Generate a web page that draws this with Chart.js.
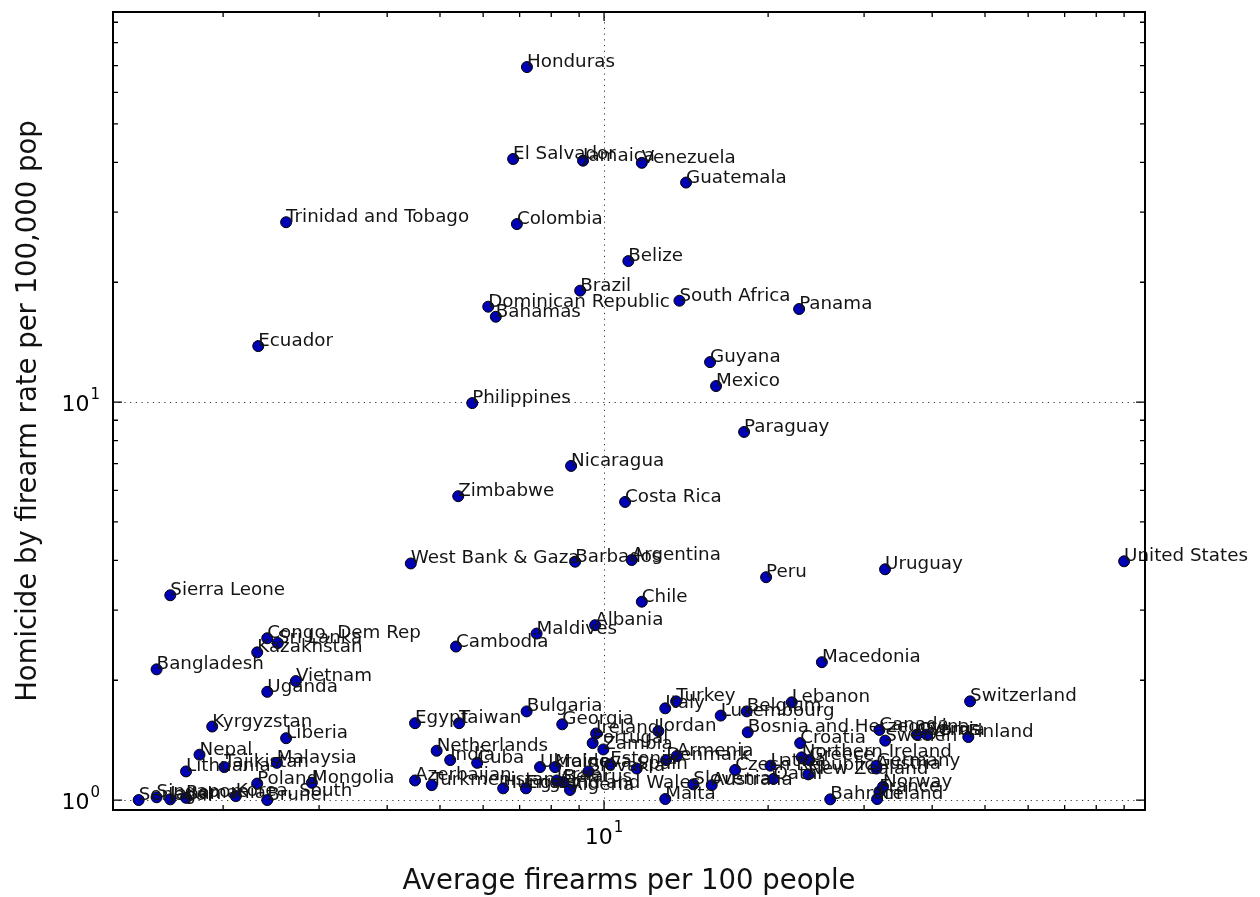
<!DOCTYPE html>
<html>
<head>
<meta charset="utf-8">
<script src="https://cdn.jsdelivr.net/npm/chart.js@4.4.0/dist/chart.umd.min.js"></script>
<style>
  html, body { margin: 0; padding: 0; background: #fff; }
  canvas { display: block; }
</style>
</head>
<body>
<canvas id="chart" width="1260" height="897"></canvas>
<script>
// countries, firearms per 100 people (x) and homicide-by-firearm rate (y)
const countries = [
  'Albania','Algeria','Argentina','Armenia','Australia','Austria','Azerbaijan','Bahamas','Bahrain','Bangladesh',
  'Barbados','Belarus','Belgium','Belize','Bosnia and Herzegovina','Brazil','Brunei','Bulgaria','Cambodia','Canada',
  'Chile','Colombia','Congo, Dem Rep','Costa Rica','Croatia','Cuba','Cyprus','Czech Republic','Denmark','Dominican Republic',
  'Ecuador','Egypt','El Salvador','England and Wales','Estonia','Finland','France','Georgia','Germany','Greece',
  'Guatemala','Guyana','Honduras','Hungary','Iceland','India','Ireland','Israel','Italy','Jamaica',
  'Japan','Jordan','Kazakhstan','Korea, South','Kyrgyzstan','Latvia','Lebanon','Liberia','Lithuania','Luxembourg',
  'Macedonia','Malaysia','Maldives','Malta','Mexico','Moldova','Mongolia','Nepal','Netherlands','New Zealand',
  'Nicaragua','Northern Ireland','Norway','Panama','Paraguay','Peru','Philippines','Poland','Portugal','Qatar',
  'Romania','Senegal','Serbia','Sierra Leone','Singapore','Slovakia','Slovenia','South Africa','Spain','Sri Lanka',
  'Sweden','Switzerland','Taiwan','Tajikistan','Trinidad and Tobago','Turkey','Turkmenistan','Uganda','Ukraine','United States',
  'Uruguay','Venezuela','Vietnam','West Bank & Gaza','Zambia','Zimbabwe'
];
const firearms = [
  9.63, 8.66, 11.24, 13.6, 15.76, 31.6, 4.50, 6.33, 26.0, 1.51,
  8.85, 8.42, 18.27, 11.08, 18.35, 9.04, 2.41, 7.21, 5.35, 32.0,
  11.73, 6.92, 2.41, 10.93, 22.9, 5.85, 37.5, 17.4, 13.0, 6.13,
  2.32, 4.50, 6.81, 7.19, 10.26, 46.6, 32.0, 8.38, 31.6, 23.8,
  14.14, 15.65, 7.22, 6.53, 31.7, 5.22, 9.67, 8.19, 12.95, 9.15,
  1.60, 12.58, 2.31, 2.11, 1.91, 20.2, 22.1, 2.61, 1.71, 16.37,
  25.1, 2.51, 7.52, 12.95, 16.05, 8.13, 2.91, 1.81, 4.93, 23.7,
  8.70, 23.05, 32.5, 22.8, 18.07, 19.83, 5.73, 2.31, 9.53, 20.45,
  1.71, 1.40, 39.1, 1.60, 1.51, 9.36, 14.58, 13.75, 11.48, 2.52,
  32.8, 46.95, 5.42, 2.01, 2.61, 13.56, 4.83, 2.41, 7.63, 90.0,
  32.78, 11.73, 2.72, 4.42, 9.97, 5.40
];
const homicides = [
  2.75, 1.06, 4.01, 1.29, 1.09, 1.20, 1.12, 16.38, 1.004, 2.13,
  3.97, 1.11, 1.67, 22.6, 1.48, 19.05, 1.0, 1.67, 2.43, 1.50,
  3.15, 28.0, 2.55, 5.61, 1.39, 1.24, 1.46, 1.19, 1.26, 17.36,
  13.82, 1.56, 40.8, 1.07, 1.23, 1.44, 1.05, 1.55, 1.22, 1.26,
  35.6, 12.6, 69.45, 1.07, 1.006, 1.26, 1.47, 1.12, 1.70, 40.4,
  1.004, 1.49, 2.35, 1.023, 1.53, 1.22, 1.76, 1.43, 1.18, 1.63,
  2.22, 1.24, 2.62, 1.006, 10.97, 1.21, 1.105, 1.30, 1.33, 1.16,
  6.91, 1.28, 1.08, 17.13, 8.41, 3.63, 9.94, 1.10, 1.39, 1.13,
  1.013, 1.0, 1.46, 3.27, 1.016, 1.18, 1.095, 17.97, 1.20, 2.48,
  1.41, 1.77, 1.56, 1.21, 28.3, 1.77, 1.09, 1.87, 1.21, 3.98,
  3.80, 39.9, 1.99, 3.93, 1.34, 5.80
];

// axis ranges and tick marks
const xRange = [1.256, 98.3];
const yRange = [0.944, 95.5];
const decades = [1, 10];
const minorSteps = [2, 3, 4, 5, 6, 7, 8, 9];
const xMajorTicks = [10];
const yMajorTicks = [1, 10];
const xTitle = 'Average firearms per 100 people';
const yTitle = 'Homicide by firearm rate per 100,000 pop';

const FONT = '"DejaVu Sans", "Liberation Sans", sans-serif';

function minorTicks(range){
  const out = [];
  decades.forEach(d => minorSteps.forEach(m => {
    const v = d * m;
    if (v > range[0] && v < range[1]) out.push(v);
  }));
  return out;
}

// 10^n label: base + superscript
function drawPow(ctx, exp, x, y, align){
  ctx.font = '22px ' + FONT;
  const bw = ctx.measureText('10').width;
  ctx.font = '15px ' + FONT;
  const ew = ctx.measureText(String(exp)).width;
  const left = align === 'right' ? x - bw - ew - 1 : x - (bw + ew + 1) / 2;
  ctx.textAlign = 'left';
  ctx.textBaseline = 'alphabetic';
  ctx.font = '22px ' + FONT;
  ctx.fillText('10', left, y);
  ctx.font = '15px ' + FONT;
  ctx.fillText(String(exp), left + bw + 1, y - 12);
}

const gridPlugin = {
  id: 'grid',
  beforeDatasetsDraw(chart){
    const {ctx, chartArea: a, scales: {x, y}} = chart;
    ctx.save();
    ctx.strokeStyle = '#333';
    ctx.lineWidth = 1;
    ctx.setLineDash([1.2, 4.5]);
    xMajorTicks.forEach(v => {
      const p = Math.round(x.getPixelForValue(v)) + 0.5;
      ctx.beginPath(); ctx.moveTo(p, a.bottom); ctx.lineTo(p, a.top); ctx.stroke();
    });
    yMajorTicks.forEach(v => {
      const p = Math.round(y.getPixelForValue(v)) + 0.5;
      ctx.beginPath(); ctx.moveTo(a.left, p); ctx.lineTo(a.right, p); ctx.stroke();
    });
    ctx.restore();
  }
};

const decorPlugin = {
  id: 'decor',
  afterDatasetsDraw(chart){
    const {ctx, chartArea: a, scales: {x, y}} = chart;
    const meta = chart.getDatasetMeta(0);
    ctx.save();
    // point labels
    ctx.fillStyle = '#141414';
    ctx.font = '18.3px ' + FONT;
    ctx.textAlign = 'left';
    ctx.textBaseline = 'alphabetic';
    meta.data.forEach((pt, i) => ctx.fillText(countries[i], pt.x, pt.y));

    // ticks, inside on all four sides
    ctx.strokeStyle = '#000';
    ctx.lineWidth = 1.3;
    const tickX = (v, len) => {
      const p = x.getPixelForValue(v);
      ctx.beginPath();
      ctx.moveTo(p, a.bottom); ctx.lineTo(p, a.bottom - len);
      ctx.moveTo(p, a.top); ctx.lineTo(p, a.top + len);
      ctx.stroke();
    };
    const tickY = (v, len) => {
      const p = y.getPixelForValue(v);
      ctx.beginPath();
      ctx.moveTo(a.left, p); ctx.lineTo(a.left + len, p);
      ctx.moveTo(a.right, p); ctx.lineTo(a.right - len, p);
      ctx.stroke();
    };
    minorTicks(xRange).forEach(v => tickX(v, 5));
    minorTicks(yRange).forEach(v => tickY(v, 5));
    xMajorTicks.forEach(v => tickX(v, 9));
    yMajorTicks.forEach(v => tickY(v, 9));

    // frame
    ctx.lineWidth = 2;
    ctx.strokeRect(a.left, a.top, a.right - a.left, a.bottom - a.top);

    // tick labels
    ctx.fillStyle = '#000';
    xMajorTicks.forEach(v => drawPow(ctx, Math.round(Math.log10(v)), x.getPixelForValue(v), a.bottom + 34, 'center'));
    yMajorTicks.forEach(v => drawPow(ctx, Math.round(Math.log10(v)), a.left - 13, y.getPixelForValue(v) + 9, 'right'));

    // axis titles
    ctx.fillStyle = '#111';
    ctx.font = '27.5px ' + FONT;
    ctx.textAlign = 'center';
    ctx.fillText(xTitle, (a.left + a.right) / 2, 889);
    ctx.translate(36, (a.top + a.bottom) / 2);
    ctx.rotate(-Math.PI / 2);
    ctx.fillText(yTitle, 0, 0);
    ctx.restore();
  }
};

new Chart(document.getElementById('chart'), {
  type: 'scatter',
  data: {
    datasets: [{
      data: firearms.map((v, i) => ({x: v, y: homicides[i]})),
      backgroundColor: '#0000b4',
      borderColor: '#000',
      borderWidth: 1,
      pointRadius: 5.5,
      pointHoverRadius: 5.5,
      clip: false
    }]
  },
  options: {
    responsive: false,
    animation: false,
    events: [],
    layout: { padding: { left: 113, right: 115, top: 12, bottom: 87 } },
    scales: {
      x: { type: 'logarithmic', display: false, min: xRange[0], max: xRange[1], bounds: 'data' },
      y: { type: 'logarithmic', display: false, min: yRange[0], max: yRange[1], bounds: 'data' }
    },
    plugins: { legend: { display: false }, tooltip: { enabled: false } }
  },
  plugins: [gridPlugin, decorPlugin]
});
</script>
</body>
</html>
